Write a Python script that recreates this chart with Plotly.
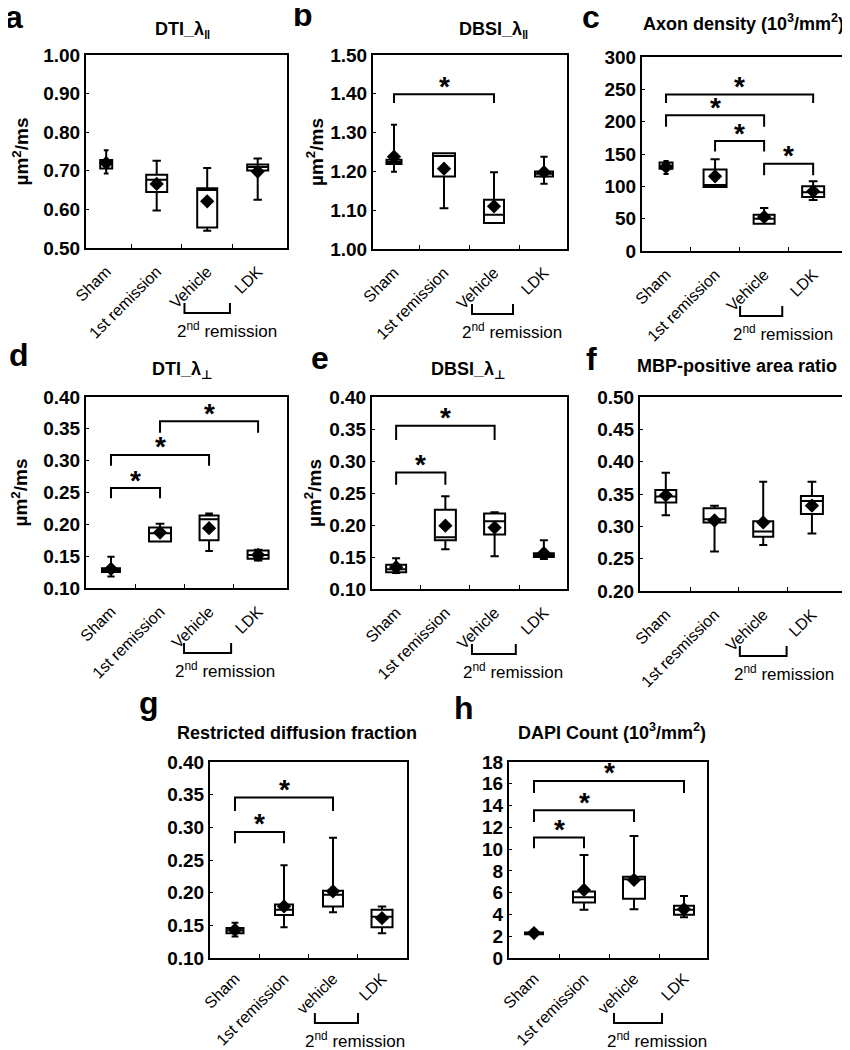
import plotly.graph_objects as go

# page is rendered with the default 8px body margin: design in page pixels, offset by 8
OFF = 8
W, H = 850 - OFF, 1050 - OFF
FONT = "Liberation Sans, Arial, DejaVu Sans, sans-serif"

# ---------------- data ----------------
CATS = ["Sham", "1st remission", "Vehicle", "LDK"]
CATS_F = ["Sham", "1st resmission", "Vehicle", "LDK"]
CATS_GH = ["Sham", "1st remission", "vehicle", "LDK"]

# a  DTI lambda parallel
a_lower = [0.693, 0.597, 0.545, 0.625]
a_q1 = [0.706, 0.645, 0.553, 0.701]
a_med = [0.718, 0.677, 0.650, 0.710]
a_q3 = [0.728, 0.690, 0.655, 0.716]
a_upper = [0.753, 0.726, 0.707, 0.732]
a_mean = [0.720, 0.666, 0.621, 0.698]

# b  DBSI lambda parallel
b_lower = [1.199, 1.105, 1.067, 1.168]
b_q1 = [1.219, 1.187, 1.067, 1.187]
b_med = [1.224, 1.240, 1.088, 1.194]
b_q3 = [1.230, 1.247, 1.127, 1.200]
b_upper = [1.320, 1.247, 1.198, 1.238]
b_mean = [1.238, 1.207, 1.110, 1.198]

# c  Axon density
c_lower = [119, 99, 42, 79]
c_q1 = [127, 99, 42, 83.5]
c_med = [131, 102, 50, 91]
c_q3 = [137, 126, 56, 100]
c_upper = [139, 142, 66.5, 108]
c_mean = [130, 115.5, 52.6, 92.3]

# d  DTI lambda perpendicular
d_lower = [0.118, 0.173, 0.158, 0.143]
d_q1 = [0.125, 0.173, 0.175, 0.146]
d_med = [0.128, 0.186, 0.208, 0.152]
d_q3 = [0.131, 0.195, 0.214, 0.159]
d_upper = [0.149, 0.201, 0.217, 0.160]
d_mean = [0.130, 0.187, 0.194, 0.152]

# e  DBSI lambda perpendicular
e_lower = [0.125, 0.162, 0.151, 0.147]
e_q1 = [0.126, 0.176, 0.185, 0.150]
e_med = [0.131, 0.181, 0.206, 0.153]
e_q3 = [0.138, 0.224, 0.218, 0.156]
e_upper = [0.148, 0.245, 0.220, 0.176]
e_mean = [0.134, 0.199, 0.196, 0.156]

# f  MBP-positive area ratio
f_lower = [0.317, 0.261, 0.271, 0.289]
f_q1 = [0.337, 0.306, 0.284, 0.319]
f_med = [0.346, 0.311, 0.292, 0.339]
f_q3 = [0.356, 0.328, 0.308, 0.347]
f_upper = [0.383, 0.332, 0.369, 0.369]
f_mean = [0.348, 0.309, 0.306, 0.332]

# g  Restricted diffusion fraction
g_lower = [0.133, 0.147, 0.170, 0.138]
g_q1 = [0.138, 0.166, 0.179, 0.147]
g_med = [0.142, 0.174, 0.197, 0.163]
g_q3 = [0.146, 0.182, 0.203, 0.174]
g_upper = [0.154, 0.242, 0.284, 0.179]
g_mean = [0.143, 0.179, 0.202, 0.161]

# h  DAPI count
h_lower = [2.07, 4.42, 4.48, 3.75]
h_q1 = [2.17, 5.09, 5.43, 3.97]
h_med = [2.30, 5.58, 7.23, 4.42]
h_q3 = [2.35, 6.10, 7.47, 4.79]
h_upper = [2.44, 9.46, 11.2, 5.70]
h_mean = [2.29, 6.25, 7.17, 4.48]

# significance brackets: (from group, to group, bracket level, end level)
b_sig = [(0, 2, 1.399, 1.376)]
c_sig = [(0, 3, 242, 229), (0, 2, 210, 192), (1, 2, 170, 154), (2, 3, 135, 117)]
d_sig = [(0, 1, 0.257, 0.241), (0, 2, 0.309, 0.292), (1, 3, 0.362, 0.344)]
e_sig = [(0, 2, 0.355, 0.333), (0, 1, 0.282, 0.263)]
g_sig = [(0, 2, 0.3455, 0.325), (0, 1, 0.293, 0.2755)]
h_sig = [(0, 3, 16.26, 15.16), (0, 2, 13.58, 12.5), (0, 1, 11.07, 10.07)]

YUNIT = "µm<sup>2</sup>/ms"

# ---------------- panel layout (page pixels) ----------------
panels = [
    dict(letter="a", title="DTI_λ<sub>‖</sub>", cats=CATS,
         stats=(a_lower, a_q1, a_med, a_q3, a_upper), mean=a_mean, sig=[],
         yr=[0.5, 1.0], dtick=0.1, fmt=".2f", ytitle=YUNIT, ytx=20,
         box=(86, 287, 55, 248), xr=[-0.40, 3.58], widths=[12, 21, 20, 21], so=6,
         lpos=(14, 17), tpos=(182, 30, "center"), grp=(1.55, 2.45, 2.40)),
    dict(letter="b", title="DBSI_λ<sub>‖</sub>", cats=CATS,
         stats=(b_lower, b_q1, b_med, b_q3, b_upper), mean=b_mean, sig=b_sig,
         yr=[1.0, 1.5], dtick=0.1, fmt=".2f", ytitle=YUNIT, ytx=315,
         box=(373, 567, 55, 249), xr=[-0.42, 3.46], widths=[15, 22, 20, 18], so=6,
         lpos=(303, 15), tpos=(493, 30, "center"), grp=(1.56, 2.38, 2.36)),
    dict(letter="c", title="Axon density (10<sup>3</sup>/mm<sup>2</sup>)", cats=CATS,
         stats=(c_lower, c_q1, c_med, c_q3, c_upper), mean=c_mean, sig=c_sig,
         yr=[0, 300], dtick=50, fmt="d", ytitle=None, ytx=None,
         box=(642, 847, 57, 251), xr=[-0.49, 3.69], widths=[13, 23, 21, 22], so=6,
         lpos=(591, 17), tpos=(846, 23, "right"), grp=(1.51, 2.37, 2.39)),
    dict(letter="d", title="DTI_λ<sub>⊥</sub>", cats=CATS,
         stats=(d_lower, d_q1, d_med, d_q3, d_upper), mean=d_mean, sig=d_sig,
         yr=[0.1, 0.4], dtick=0.05, fmt=".2f", ytitle=YUNIT, ytx=20,
         box=(86, 287, 397, 588), xr=[-0.51, 3.59], widths=[18, 22, 19, 21], so=6,
         lpos=(19, 355), tpos=(182, 370, "center"), grp=(1.49, 2.45, 2.33)),
    dict(letter="e", title="DBSI_λ<sub>⊥</sub>", cats=CATS,
         stats=(e_lower, e_q1, e_med, e_q3, e_upper), mean=e_mean, sig=e_sig,
         yr=[0.1, 0.4], dtick=0.05, fmt=".2f", ytitle=YUNIT, ytx=313,
         box=(372, 567, 397, 589), xr=[-0.49, 3.47], widths=[20, 21, 21, 20], so=6,
         lpos=(320, 358), tpos=(468, 370, "center"), grp=(1.54, 2.43, 2.37)),
    dict(letter="f", title="MBP-positive area ratio", cats=CATS_F,
         stats=(f_lower, f_q1, f_med, f_q3, f_upper), mean=f_mean, sig=[],
         yr=[0.2, 0.5], dtick=0.05, fmt=".2f", ytitle=None, ytx=None,
         box=(640, 847, 397, 591), xr=[-0.53, 3.72], widths=[21, 22, 20, 22], so=6,
         lpos=(591, 359), tpos=(737, 366, "center"), grp=(1.52, 2.48, 2.42)),
    dict(letter="g", title="Restricted diffusion fraction", cats=CATS_GH,
         stats=(g_lower, g_q1, g_med, g_q3, g_upper), mean=g_mean, sig=g_sig,
         yr=[0.1, 0.4], dtick=0.05, fmt=".2f", ytitle=None, ytx=None,
         box=(210, 407, 762, 958), xr=[-0.51, 3.51], widths=[17, 18, 20, 21], so=3,
         lpos=(149, 703), tpos=(297, 733, "center"), grp=(1.63, 2.51, 2.45)),
    dict(letter="h", title="DAPI Count (10<sup>3</sup>/mm<sup>2</sup>)", cats=CATS_GH,
         stats=(h_lower, h_q1, h_med, h_q3, h_upper), mean=h_mean, sig=h_sig,
         yr=[0, 18], dtick=2, fmt="d", ytitle=None, ytx=None,
         box=(509, 707, 762, 958), xr=[-0.50, 3.46], widths=[18, 22, 22, 20], so=3,
         lpos=(464, 708), tpos=(612, 731, "center"), grp=(1.60, 2.56, 2.46)),
]


def px(x):
    return (x - OFF) / W


def py(y):
    return 1 - (y - OFF) / H


fig = go.Figure()
layout = dict(width=W, height=H, autosize=False, margin=dict(l=0, r=0, t=0, b=0, pad=0),
              paper_bgcolor="white", plot_bgcolor="white", showlegend=False,
              font=dict(family=FONT, color="black"))
annotations = []
shapes = []

for n, p in enumerate(panels, start=1):
    sfx = "" if n == 1 else str(n)
    xa, ya = "x" + sfx, "y" + sfx
    L, R, T, B = p["box"]
    ppu = (R - L) / (p["xr"][1] - p["xr"][0])
    lower, q1, med, q3, upper = p["stats"]
    for i in range(4):
        fig.add_trace(go.Box(
            x=[i], q1=[q1[i]], median=[med[i]], q3=[q3[i]],
            lowerfence=[lower[i]], upperfence=[upper[i]],
            width=p["widths"][i] / ppu, whiskerwidth=0.4,
            line=dict(color="black", width=2), fillcolor="white",
            boxpoints=False, xaxis=xa, yaxis=ya, hoverinfo="skip"))
    fig.add_trace(go.Scatter(
        x=[0, 1, 2, 3], y=p["mean"], mode="markers",
        marker=dict(symbol="diamond", size=11, color="black"),
        xaxis=xa, yaxis=ya, hoverinfo="skip"))

    layout["xaxis" + sfx] = dict(
        domain=[px(L), px(R)], anchor=ya, range=p["xr"], automargin=False,
        tickmode="array", tickvals=[0, 1, 2, 3], ticktext=p["cats"],
        tickangle=-45, ticks="", ticklabelstandoff=p["so"],
        showline=True, mirror=True, linecolor="black", linewidth=2,
        showgrid=False, zeroline=False, fixedrange=True,
        tickfont=dict(size=16, family=FONT, color="black"),
        minor=dict(tickmode="array", tickvals=[0.5, 1.5, 2.5], ticks="inside",
                   ticklen=4, tickcolor="black", tickwidth=1, showgrid=False))
    layout["yaxis" + sfx] = dict(
        domain=[py(B), py(T)], anchor=xa, range=p["yr"], automargin=False,
        tickmode="linear", tick0=p["yr"][0], dtick=p["dtick"], tickformat=p["fmt"],
        ticks="inside", ticklen=3, tickcolor="black", tickwidth=1,
        showline=True, mirror=True, linecolor="black", linewidth=2,
        showgrid=False, zeroline=False, fixedrange=True,
        tickfont=dict(size=19, family=FONT, color="black", weight="bold"))

    # panel letter and title
    annotations.append(dict(text="<b>%s</b>" % p["letter"], xref="paper", yref="paper",
                            x=px(p["lpos"][0]), y=py(p["lpos"][1]), showarrow=False,
                            xanchor="center", yanchor="middle",
                            font=dict(size=32, family=FONT, color="black")))
    annotations.append(dict(text="<b>%s</b>" % p["title"], xref="paper", yref="paper",
                            x=px(p["tpos"][0]), y=py(p["tpos"][1]), showarrow=False,
                            xanchor=p["tpos"][2], yanchor="middle",
                            font=dict(size=18, family=FONT, color="black")))
    if p["ytitle"]:
        annotations.append(dict(text="<b>%s</b>" % p["ytitle"], xref="paper", yref="paper",
                                x=px(p["ytx"]), y=py((T + B) / 2), showarrow=False,
                                textangle=-90, xanchor="center", yanchor="middle",
                                font=dict(size=19, family=FONT, color="black")))

    # significance brackets
    for (i, j, ytop, yend) in p["sig"]:
        shapes.append(dict(type="path", xref=xa, yref=ya,
                           path="M %s,%s L %s,%s L %s,%s L %s,%s" % (i, yend, i, ytop, j, ytop, j, yend),
                           line=dict(color="black", width=2)))
        annotations.append(dict(text="<b>*</b>", xref=xa, yref=ya, x=(i + j) / 2, y=ytop,
                                showarrow=False, xanchor="center", yanchor="middle", yshift=8,
                                font=dict(size=28, family=FONT, color="black")))

    # "2nd remission" group bracket under Vehicle / LDK
    gx0, gx1, gxt = p["grp"]
    X0 = px(L + (gx0 - p["xr"][0]) * ppu)
    X1 = px(L + (gx1 - p["xr"][0]) * ppu)
    XT = px(L + (gxt - p["xr"][0]) * ppu)
    yh, yu = py(B + 65), py(B + 55)
    shapes.append(dict(type="path", xref="paper", yref="paper",
                       path="M %f,%f L %f,%f L %f,%f L %f,%f" % (X0, yu, X0, yh, X1, yh, X1, yu),
                       line=dict(color="black", width=2)))
    annotations.append(dict(text="2<sup>nd</sup> remission", xref="paper", yref="paper",
                            x=XT, y=py(B + 82), showarrow=False,
                            xanchor="center", yanchor="middle",
                            font=dict(size=17, family=FONT, color="black")))

layout["annotations"] = annotations
layout["shapes"] = shapes
fig.update_layout(**layout)
fig.write_html("out.html")
